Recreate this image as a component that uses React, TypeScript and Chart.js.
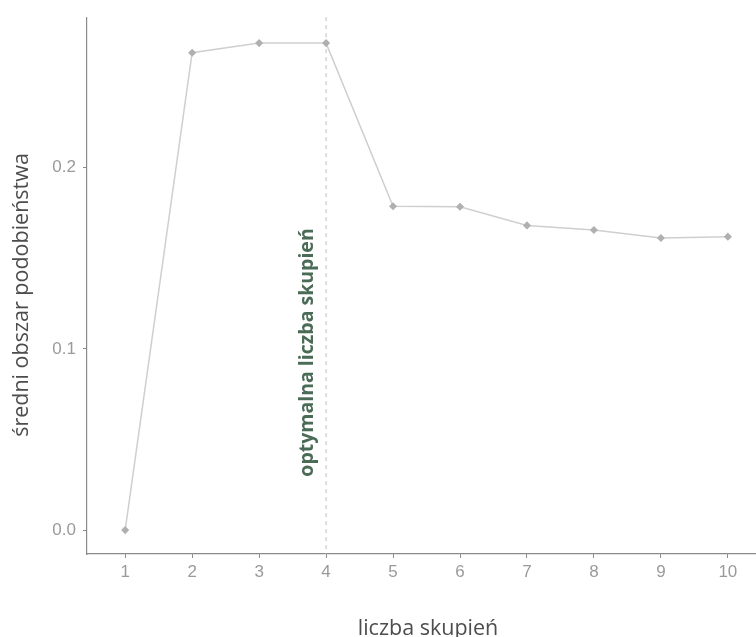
import { useEffect, useRef } from "react";
import { Chart, registerables } from "chart.js";
Chart.register(...registerables);

const CLUSTERS = [1, 2, 3, 4, 5, 6, 7, 8, 9, 10];
const SIMILARITY = [0.0, 0.2634, 0.2687, 0.2687, 0.1787, 0.1784, 0.1681, 0.1656, 0.1612, 0.1619];
const Y_TICKS = [0.0, 0.1, 0.2];
const X_TICKS = CLUSTERS;
const OPTIMAL_K = 4;
const ANNOT_X = 3.72;
const ANNOT_Y = 0.098;
const X_TITLE = "liczba skupień";
const Y_TITLE = "średni obszar podobieństwa";
const ANNOTATION = "optymalna liczba skupień";

export default function App() {
  const ref = useRef<HTMLCanvasElement | null>(null);
  useEffect(() => {
    document.body.style.margin = "0";
    const canvas = ref.current!;
    const overlay = {
      id: "overlay",
      beforeDatasetsDraw(chart: any) {
        const { ctx, chartArea, scales } = chart;
        const x = scales.x.getPixelForValue(OPTIMAL_K);
        ctx.save();
        ctx.strokeStyle = "#bdbdbd";
        ctx.lineWidth = 1;
        ctx.setLineDash([4, 4]);
        ctx.beginPath();
        ctx.moveTo(x, chartArea.top);
        ctx.lineTo(x, chartArea.bottom);
        ctx.stroke();
        ctx.restore();
      },
      afterDraw(chart: any) {
        const { ctx, scales } = chart;
        ctx.save();
        const ax = scales.x.getPixelForValue(ANNOT_X);
        const ay = scales.y.getPixelForValue(ANNOT_Y);
        ctx.translate(ax, ay);
        ctx.rotate(-Math.PI / 2);
        ctx.font = "bold 19.5px 'Open Sans'";
        ctx.fillStyle = "#4a6b56";
        ctx.textAlign = "center";
        ctx.textBaseline = "middle";
        ctx.fillText(ANNOTATION, 0, 0);
        ctx.restore();
        ctx.save();
        ctx.translate(22, 295);
        ctx.rotate(-Math.PI / 2);
        ctx.font = "21.5px 'Open Sans'";
        ctx.fillStyle = "#4d4d4d";
        ctx.textAlign = "center";
        ctx.textBaseline = "middle";
        ctx.fillText(Y_TITLE, 0, 0);
        ctx.restore();
        ctx.save();
        ctx.font = "21.5px 'Open Sans'";
        ctx.fillStyle = "#4d4d4d";
        ctx.textAlign = "center";
        ctx.textBaseline = "alphabetic";
        ctx.fillText(X_TITLE, 428, 635);
        ctx.restore();
      },
    };
    const chart = new Chart(canvas, {
      type: "line",
      data: {
        datasets: [
          {
            data: CLUSTERS.map((c, i) => ({ x: c, y: SIMILARITY[i] })),
            borderColor: "#cfcfcf",
            borderWidth: 1.5,
            pointBackgroundColor: "#b0b0b0",
            pointBorderColor: "#b0b0b0",
            pointStyle: "rectRot",
            pointRadius: 3,
            tension: 0,
          },
        ],
      },
      options: {
        responsive: false,
        animation: false,
        layout: { autoPadding: false, padding: { top: 15, right: 0, left: 0, bottom: 0 } },
        plugins: { legend: { display: false }, tooltip: { enabled: false } },
        scales: {
          x: {
            type: "linear",
            min: 0.43,
            max: 10.42,
            afterFit: (s: any) => { s.height = 83; s.paddingLeft = 0; s.paddingRight = 0; },
            afterBuildTicks: (s: any) => { s.ticks = X_TICKS.map((v) => ({ value: v })); },
            grid: { drawOnChartArea: false, drawTicks: true, tickLength: 4, tickColor: "#8a8a8a" },
            border: { display: true, color: "#8a8a8a", width: 1.2 },
            ticks: {
              padding: 4,
              color: "#9a9a9a",
              font: { family: "'Liberation Sans'", size: 17 },
              callback: (v: any) => String(v),
            },
          },
          y: {
            type: "linear",
            min: -0.0132,
            max: 0.283,
            afterFit: (s: any) => { s.width = 87; },
            afterBuildTicks: (s: any) => { s.ticks = Y_TICKS.map((v) => ({ value: v })); },
            grid: { drawOnChartArea: false, drawTicks: true, tickLength: 4, tickColor: "#8a8a8a" },
            border: { display: true, color: "#8a8a8a", width: 1.2 },
            ticks: {
              padding: 7,
              color: "#9a9a9a",
              font: { family: "'Liberation Sans'", size: 17 },
              callback: (v: any) => Number(v).toFixed(1),
            },
          },
        },
      },
      plugins: [overlay],
    });
    return () => chart.destroy();
  }, []);
  return (
    <div style={{ width: 756, height: 637 }}>
      <canvas ref={ref} width={756} height={637} style={{ display: "block", width: 756, height: 637 }} />
    </div>
  );
}
